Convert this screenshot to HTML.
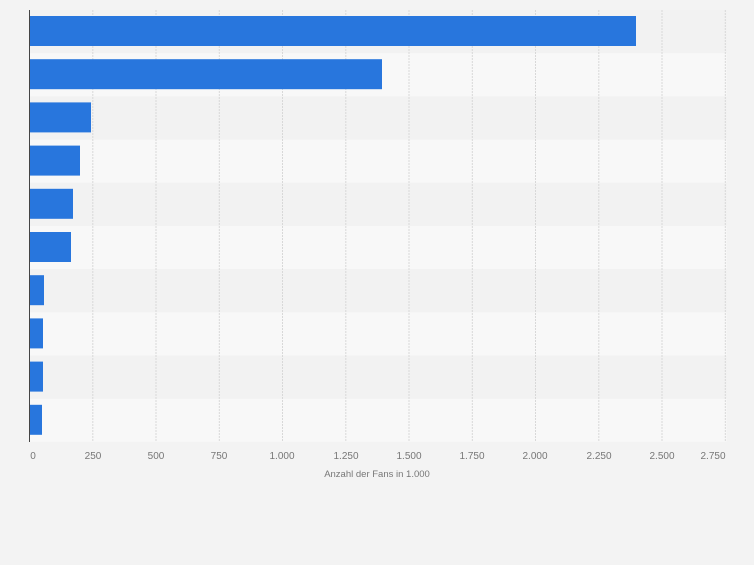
<!DOCTYPE html>
<html><head><meta charset="utf-8"><style>body{margin:0;background:#f3f3f3}</style></head><body>
<svg width="754" height="560" xmlns="http://www.w3.org/2000/svg" font-family="Liberation Sans, sans-serif">
<rect width="754" height="560" fill="#f3f3f3"/>
<g>
<rect x="29.5" y="10" width="697" height="43.2" fill="#f2f2f2"/>
<rect x="29.5" y="53.2" width="697" height="43.2" fill="#f8f8f8"/>
<rect x="29.5" y="96.4" width="697" height="43.2" fill="#f2f2f2"/>
<rect x="29.5" y="139.6" width="697" height="43.2" fill="#f8f8f8"/>
<rect x="29.5" y="182.8" width="697" height="43.2" fill="#f2f2f2"/>
<rect x="29.5" y="226" width="697" height="43.2" fill="#f8f8f8"/>
<rect x="29.5" y="269.2" width="697" height="43.2" fill="#f2f2f2"/>
<rect x="29.5" y="312.4" width="697" height="43.2" fill="#f8f8f8"/>
<rect x="29.5" y="355.6" width="697" height="43.2" fill="#f2f2f2"/>
<rect x="29.5" y="398.8" width="697" height="43" fill="#f8f8f8"/>
</g>
<g stroke="#d8d8d8" stroke-dasharray="2,1" stroke-width="1">
<line x1="92.8" y1="10" x2="92.8" y2="442"/><line x1="156" y1="10" x2="156" y2="442"/><line x1="219.3" y1="10" x2="219.3" y2="442"/><line x1="282.5" y1="10" x2="282.5" y2="442"/><line x1="345.8" y1="10" x2="345.8" y2="442"/><line x1="409" y1="10" x2="409" y2="442"/><line x1="472.3" y1="10" x2="472.3" y2="442"/><line x1="535.5" y1="10" x2="535.5" y2="442"/><line x1="598.8" y1="10" x2="598.8" y2="442"/><line x1="662" y1="10" x2="662" y2="442"/><line x1="725.3" y1="10" x2="725.3" y2="442"/>
</g>
<g fill="#2876dd">
<rect x="29.5" y="16" width="606.5" height="30"/>
<rect x="29.5" y="59.2" width="352.5" height="30"/>
<rect x="29.5" y="102.4" width="61.5" height="30"/>
<rect x="29.5" y="145.6" width="50.5" height="30"/>
<rect x="29.5" y="188.8" width="43.5" height="30"/>
<rect x="29.5" y="232" width="41.5" height="30"/>
<rect x="29.5" y="275.2" width="14.5" height="30"/>
<rect x="29.5" y="318.4" width="13.5" height="30"/>
<rect x="29.5" y="361.6" width="13.5" height="30"/>
<rect x="29.5" y="404.8" width="12.5" height="30"/>
</g>
<line x1="29.5" y1="10" x2="29.5" y2="442" stroke="#444" stroke-width="1"/>
<g font-size="10" fill="#777" text-anchor="middle">
<text x="33" y="459">0</text><text x="93" y="459">250</text><text x="156" y="459">500</text><text x="219" y="459">750</text><text x="282" y="459">1.000</text><text x="346" y="459">1.250</text><text x="409" y="459">1.500</text><text x="472" y="459">1.750</text><text x="535" y="459">2.000</text><text x="599" y="459">2.250</text><text x="662" y="459">2.500</text><text x="713" y="459">2.750</text>
<text x="377" y="477" font-size="9.5">Anzahl der Fans in 1.000</text>
</g>
</svg>
</body></html>
